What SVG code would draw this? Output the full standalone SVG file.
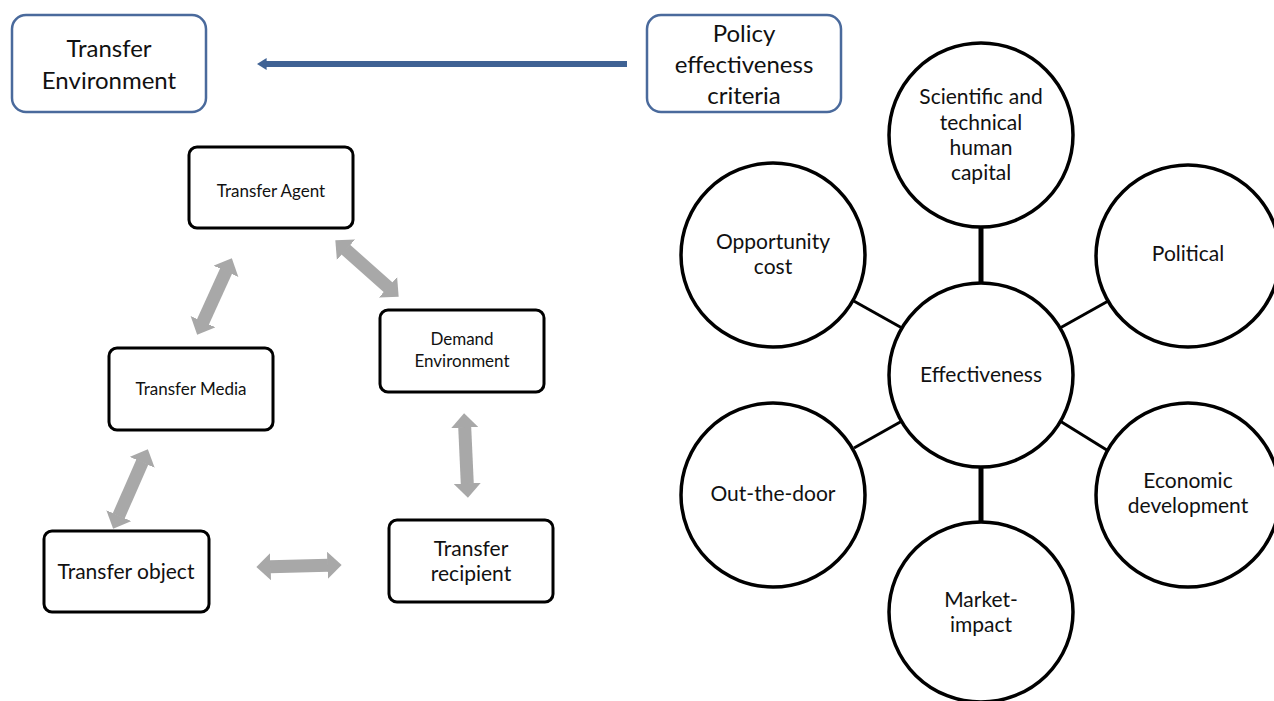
<svg xmlns="http://www.w3.org/2000/svg" width="1274" height="701" viewBox="0 0 1274 701">
<defs>
<style>
text{font-family:Lato,"Liberation Sans",sans-serif;fill:#111;text-anchor:middle}
.bbox{fill:#fff;stroke:#4a6a9c;stroke-width:2.5}
.box{fill:#fff;stroke:#000;stroke-width:3}
.circ{fill:#fff;stroke:#000;stroke-width:3.5}
.gray{stroke:#a8a8a8;stroke-width:13;fill:none;marker-start:url(#gh);marker-end:url(#gh)}
.spoke{stroke:#000;stroke-width:3}
.spokeV{stroke:#000;stroke-width:5}
.t24{font-size:24px}
.t21{font-size:21px}
.t17{font-size:17px}
</style>
<marker id="gh" viewBox="0 0 1.1 2.1" refX="0.05" refY="1.05" markerWidth="1.1" markerHeight="2.1" orient="auto-start-reverse" markerUnits="strokeWidth">
<path d="M0,0 L1.1,1.05 L0,2.1 z" fill="#a8a8a8"/>
</marker>
<marker id="bh" viewBox="0 0 2 2" refX="0.1" refY="1" markerWidth="2" markerHeight="2" orient="auto" markerUnits="strokeWidth">
<path d="M0,0 L1.6,1 L0,2 z" fill="#3f6294"/>
</marker>
</defs>

<g id="connectors">
<line x1="627" y1="64" x2="266" y2="64" stroke="#3f6294" stroke-width="6" marker-end="url(#bh)"/>
<line class="gray" x1="226.2" y1="270.7" x2="202.8" y2="322.3"/>
<line class="gray" x1="345.5" y1="249.3" x2="388.5" y2="287.7"/>
<line class="gray" x1="464.7" y1="427" x2="467.3" y2="484"/>
<line class="gray" x1="142.4" y1="461.8" x2="118.6" y2="516.2"/>
<line class="gray" x1="270" y1="566.7" x2="328" y2="565.3"/>
<line class="spokeV" x1="981" y1="226" x2="981" y2="285"/>
<line class="spokeV" x1="981" y1="465" x2="981" y2="523"/>
<line class="spoke" x1="852" y1="300" x2="902" y2="328"/>
<line class="spoke" x1="1060" y1="328" x2="1110" y2="300"/>
<line class="spoke" x1="854" y1="448" x2="902" y2="421"/>
<line class="spoke" x1="1060" y1="421" x2="1110" y2="452"/>
</g>

<g id="transfer-environment">
<rect class="bbox" x="12" y="15" width="194" height="97" rx="14"/>
<text class="t24" x="109" y="57">Transfer</text>
<text class="t24" x="109" y="89">Environment</text>
</g>
<g id="policy-criteria">
<rect class="bbox" x="647" y="15" width="194" height="97" rx="14"/>
<text class="t24" x="744" y="42">Policy</text>
<text class="t24" x="744" y="73">effectiveness</text>
<text class="t24" x="744" y="104">criteria</text>
</g>

<g id="transfer-agent">
<rect class="box" x="189" y="147" width="164" height="81" rx="8"/>
<text class="t17" x="271" y="197">Transfer Agent</text>
</g>
<g id="demand-environment">
<rect class="box" x="380" y="310" width="164" height="82" rx="8"/>
<text class="t17" x="462" y="345">Demand</text>
<text class="t17" x="462" y="367">Environment</text>
</g>
<g id="transfer-media">
<rect class="box" x="109" y="348" width="164" height="82" rx="8"/>
<text class="t17" x="191" y="395">Transfer Media</text>
</g>
<g id="transfer-object">
<rect class="box" x="44" y="531" width="165" height="81" rx="8"/>
<text class="t21" x="126" y="579">Transfer object</text>
</g>
<g id="transfer-recipient">
<rect class="box" x="389" y="520" width="164" height="82" rx="8"/>
<text class="t21" x="471" y="556">Transfer</text>
<text class="t21" x="471" y="581">recipient</text>
</g>

<g id="scientific">
<ellipse class="circ" cx="981" cy="135" rx="92" ry="92"/>
<text class="t21" x="981" y="104">Scientific and</text>
<text class="t21" x="981" y="130">technical</text>
<text class="t21" x="981" y="155">human</text>
<text class="t21" x="981" y="180">capital</text>
</g>
<g id="opportunity">
<ellipse class="circ" cx="773" cy="255" rx="92" ry="92"/>
<text class="t21" x="773" y="249">Opportunity</text>
<text class="t21" x="773" y="274">cost</text>
</g>
<g id="political">
<ellipse class="circ" cx="1188" cy="256" rx="92" ry="91"/>
<text class="t21" x="1188" y="261">Political</text>
</g>
<g id="effectiveness">
<ellipse class="circ" cx="981" cy="375" rx="92" ry="92"/>
<text class="t21" x="981" y="382">Effectiveness</text>
</g>
<g id="out-the-door">
<ellipse class="circ" cx="773" cy="495" rx="92" ry="92"/>
<text class="t21" x="773" y="501">Out-the-door</text>
</g>
<g id="economic">
<ellipse class="circ" cx="1188" cy="495" rx="92" ry="92"/>
<text class="t21" x="1188" y="488">Economic</text>
<text class="t21" x="1188" y="513">development</text>
</g>
<g id="market-impact">
<ellipse class="circ" cx="981" cy="612" rx="92" ry="90"/>
<text class="t21" x="981" y="607">Market-</text>
<text class="t21" x="981" y="632">impact</text>
</g>
</svg>
